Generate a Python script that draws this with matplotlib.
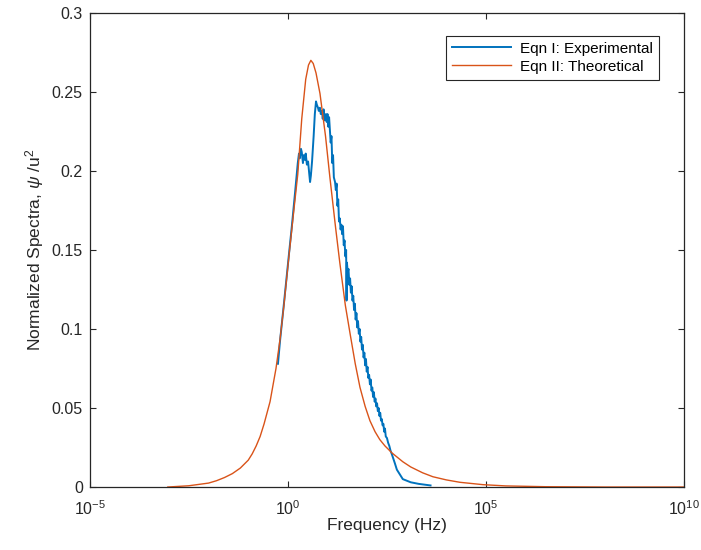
import numpy as np
import matplotlib
matplotlib.use('Agg')
import matplotlib.pyplot as plt

plt.rcParams['font.family'] = ['Liberation Sans', 'DejaVu Sans']
plt.rcParams['mathtext.fontset'] = 'custom'
plt.rcParams['mathtext.rm'] = 'Liberation Sans'
plt.rcParams['mathtext.it'] = 'Liberation Sans:italic'

# Theoretical curve (Eqn II): log10(frequency) and normalized spectrum
theo_logf = [-3.03, -2.5, -2.0, -1.8, -1.6, -1.4, -1.2, -1.0, -0.9, -0.8, -0.7, -0.6, -0.45, -0.3, -0.2, -0.1,
             0.03, 0.15, 0.25, 0.35, 0.45, 0.52, 0.58, 0.64, 0.71, 0.81, 0.95, 1.06, 1.2, 1.31,
             1.45, 1.57, 1.7, 1.82, 1.95, 2.07, 2.2, 2.32, 2.45, 2.63, 2.9, 3.1, 3.4, 3.66,
             4.0, 4.34, 4.92, 5.5, 6.5, 8.0, 10.0]
theo_val = [0.0, 0.0008, 0.0025, 0.004, 0.006, 0.0085, 0.012, 0.017, 0.021, 0.026, 0.032, 0.040, 0.054, 0.075, 0.093, 0.115,
            0.147, 0.175, 0.198, 0.233, 0.258, 0.267, 0.270, 0.268, 0.262, 0.249, 0.222, 0.196, 0.165, 0.142,
            0.115, 0.097, 0.078, 0.063, 0.051, 0.042, 0.035, 0.030, 0.026, 0.0215, 0.016, 0.0127, 0.009, 0.0065,
            0.0045, 0.003, 0.0015, 0.0007, 0.0002, 0.0, 0.0]

# Experimental curve (Eqn I)
exp_logf = [-0.25, -0.20, -0.10, 0.03, 0.10, 0.18, 0.25, 0.28, 0.30, 0.33, 0.35, 0.38, 0.40, 0.43, 0.45,
            0.48, 0.51, 0.54, 0.56, 0.58, 0.61, 0.65, 0.68, 0.71, 0.73, 0.76, 0.78, 0.81, 0.83, 0.86,
            0.88, 0.90, 0.93, 0.96, 0.98, 1.00, 1.02, 1.04, 1.06, 1.08, 1.10, 1.12, 1.14, 1.16, 1.19,
            1.21, 1.23, 1.25, 1.27, 1.29, 1.31, 1.33, 1.35, 1.37, 1.39, 1.41, 1.43, 1.45, 1.47, 1.48,
            1.49, 1.51, 1.53, 1.55, 1.57, 1.59, 1.61, 1.63, 1.65, 1.67, 1.69, 1.71, 1.73, 1.75, 1.77,
            1.79, 1.81, 1.83, 1.85, 1.87, 1.89, 1.91, 1.93, 1.95, 1.97, 1.99, 2.01, 2.03, 2.05, 2.07,
            2.09, 2.11, 2.13, 2.15, 2.17, 2.19, 2.21, 2.23, 2.25, 2.27, 2.29, 2.31, 2.33, 2.35, 2.37,
            2.39, 2.41, 2.43, 2.45, 2.47, 2.50, 2.53, 2.56, 2.59, 2.62, 2.66, 2.70, 2.75, 2.80, 2.85,
            2.90, 3.00, 3.10, 3.30, 3.60]
exp_val = [0.078, 0.092, 0.116, 0.148, 0.165, 0.186, 0.205, 0.211, 0.208, 0.214, 0.212, 0.205, 0.210, 0.207, 0.211,
           0.204, 0.206, 0.198, 0.193, 0.197, 0.206, 0.222, 0.236, 0.244, 0.242, 0.240, 0.238, 0.240, 0.236, 0.238,
           0.233, 0.239, 0.232, 0.236, 0.231, 0.236, 0.228, 0.234, 0.226, 0.218, 0.222, 0.205, 0.210, 0.196, 0.193,
           0.188, 0.192, 0.178, 0.182, 0.168, 0.170, 0.163, 0.166, 0.160, 0.165, 0.153, 0.156, 0.146, 0.150, 0.118,
           0.142, 0.136, 0.138, 0.128, 0.132, 0.123, 0.127, 0.118, 0.121, 0.112, 0.116, 0.106, 0.110, 0.101, 0.105,
           0.097, 0.100, 0.092, 0.095, 0.087, 0.090, 0.082, 0.085, 0.077, 0.081, 0.073, 0.076, 0.069, 0.071, 0.065,
           0.068, 0.061, 0.063, 0.057, 0.060, 0.054, 0.056, 0.051, 0.053, 0.048, 0.050, 0.045, 0.047, 0.042, 0.043,
           0.039, 0.040, 0.035, 0.037, 0.032, 0.031, 0.028, 0.026, 0.023, 0.021, 0.018, 0.015, 0.011, 0.009, 0.007,
           0.005, 0.004, 0.003, 0.002, 0.001]

y_ticks = [0, 0.05, 0.1, 0.15, 0.2, 0.25, 0.3]
y_tick_labels = ['0', '0.05', '0.1', '0.15', '0.2', '0.25', '0.3']
x_ticks = [1e-5, 1e0, 1e5, 1e10]
x_tick_labels = [r'$10^{-5}$', r'$10^{0}$', r'$10^{5}$', r'$10^{10}$']

fig = plt.figure(figsize=(7.01, 5.5), dpi=100)
ax = fig.add_axes([0.128, 0.1145, 0.848, 0.862])

ax.plot(10 ** np.array(exp_logf), exp_val, color='#0072BD', lw=1.4, label='Eqn I: Experimental')
ax.plot(10 ** np.array(theo_logf), theo_val, color='#D95319', lw=1.0, label='Eqn II: Theoretical')

ax.set_xscale('log')
ax.set_xlim(1e-5, 1e10)
ax.set_ylim(0, 0.3)
ax.set_xticks(x_ticks)
ax.set_xticklabels(x_tick_labels)
ax.xaxis.set_minor_locator(matplotlib.ticker.NullLocator())
ax.set_yticks(y_ticks)
ax.set_yticklabels(y_tick_labels)

ax.tick_params(direction='in', top=True, right=True, length=4, width=0.8,
               labelsize=11.5, colors='#262626', pad=5)
ax.tick_params(axis='x', pad=9)
for s in ax.spines.values():
    s.set_color('#262626')
    s.set_linewidth(0.9)

ax.set_xlabel('Frequency (Hz)', fontsize=12.5, color='#262626', labelpad=0)
ax.set_ylabel(r'Normalized Spectra, $\psi$ /u$^2$', fontsize=12.5, color='#262626')

leg = ax.legend(loc='upper right', bbox_to_anchor=(0.97, 0.968), fontsize=11, fancybox=False,
                framealpha=1, edgecolor='#262626', handlelength=3.8, handletextpad=0.6,
                borderpad=0.4, labelspacing=0.25)
leg.get_frame().set_linewidth(0.8)

plt.savefig('out.png', dpi=100)
